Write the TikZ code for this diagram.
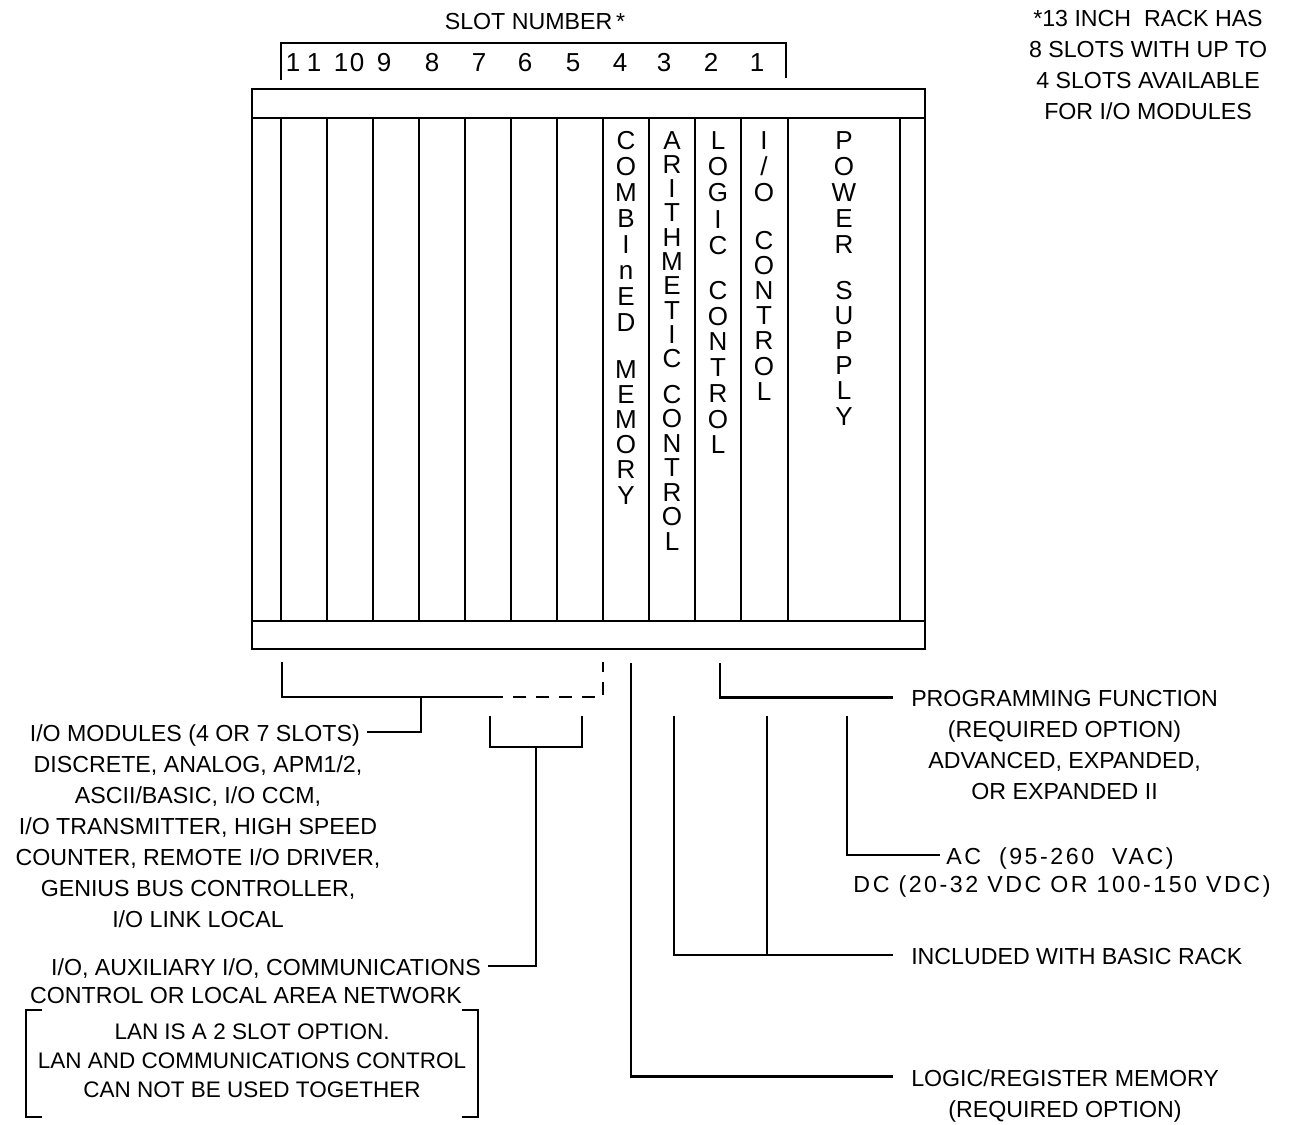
\documentclass[tikz,border=0pt]{standalone}
\usepackage{fontspec}
\setmainfont{Liberation Sans}
\begin{document}
\begin{tikzpicture}[x=0.1mm, y=-0.1mm, line width=0.7pt,
    txt/.style={inner sep=0pt, align=center, font=\fontsize{6.6}{8.8}\selectfont},
    ltr/.style={inner sep=0pt, anchor=base, font=\fontsize{7.4}{8}\selectfont},
    wide/.style={inner sep=0pt, align=center, font=\fontsize{6.6}{8.8}\selectfont\addfontfeature{LetterSpace=11}},
    rack/.style={line width=0.8pt}]
    \useasboundingbox (0,0) rectangle (1296,1124);

    % slot numbers
    \node[txt] (slotno) at (535,22) {SLOT NUMBER\,*};
    \draw (281,80) -- (281,43) -- (786,43) -- (786,78);
    \foreach \x/\n in {293/1, 314/1, 341/1, 357/0, 384/9, 432/8, 479/7, 525/6, 573/5, 620/4, 664/3, 711/2, 757/1}
        \node[ltr] (num\x) at (\x,71) {\n};

    % footnote
    \node[txt, anchor=north] (note) at (1148,9.5) {*13 INCH\ \ RACK HAS\\8 SLOTS WITH UP TO\\4 SLOTS AVAILABLE\\FOR I/O MODULES};

    % rack
    \draw[rack] (252,89) rectangle (925,649);
    \draw[rack] (252,118) -- (925,118) (252,621) -- (925,621);
    \foreach \x in {281,327,373,419,465,511,557,603,649,695,741,788,900}
        \draw[rack] (\x,118) -- (\x,621);

    % slot 4
    \foreach \c [count=\i from 0] in {C,O,M,B,I,n,E,D}
        \node[ltr] (cmb\i) at (626,{149+26.1*\i}) {\c};
    \foreach \c [count=\i from 0] in {M,E,M,O,R,Y}
        \node[ltr] (mem\i) at (626,{378.5+25.1*\i}) {\c};
    % slot 3
    \foreach \c [count=\i from 0] in {A,R,I,T,H,M,E,T,I,C}
        \node[ltr] (ari\i) at (672,{149+24.3*\i}) {\c};
    \foreach \c [count=\i from 0] in {C,O,N,T,R,O,L}
        \node[ltr] (actl\i) at (672,{403.5+24.45*\i}) {\c};
    % slot 2
    \foreach \c [count=\i from 0] in {L,O,G,I,C}
        \node[ltr] (log\i) at (718,{149+26.4*\i}) {\c};
    \foreach \c [count=\i from 0] in {C,O,N,T,R,O,L}
        \node[ltr] (lctl\i) at (718,{299.5+25.7*\i}) {\c};
    % slot 1
    \foreach \c [count=\i from 0] in {I,/,O}
        \node[ltr] (io\i) at (764,{149+26*\i}) {\c};
    \foreach \c [count=\i from 0] in {C,O,N,T,R,O,L}
        \node[ltr] (ioctl\i) at (764,{249.5+25.1*\i}) {\c};
    % power supply
    \foreach \c [count=\i from 0] in {P,O,W,E,R}
        \node[ltr] (pow\i) at (844,{149+26*\i}) {\c};
    \foreach \c [count=\i from 0] in {S,U,P,P,L,Y}
        \node[ltr] (sup\i) at (844,{299.5+25.1*\i}) {\c};

    % I/O modules
    \draw (282,662) -- (282,697) -- (490,697);
    \draw[dash pattern=on 1.3mm off 1mm] (490,697) -- (603,697) -- (603,662);
    \coordinate (iojoin) at (421,697);
    \node[txt, anchor=mid east] (iomod) at (361,732) {I/O MODULES (4 OR 7 SLOTS)};
    \draw ([xshift=0.6mm]iomod.mid east) -| (iojoin);
    \node[txt, anchor=north] (iolist) at (198,754.5) {DISCRETE, ANALOG, APM1/2,\\ASCII/BASIC, I/O CCM,\\I/O TRANSMITTER, HIGH SPEED\\COUNTER, REMOTE I/O DRIVER,\\GENIUS BUS CONTROLLER,\\I/O LINK LOCAL};

    % auxiliary I/O
    \draw (490,716) -- (490,747) -- (582,747) -- (582,716);
    \coordinate (auxjoin) at (536,747);
    \node[txt, anchor=mid east] (aux) at (482,966) {I/O, AUXILIARY I/O, COMMUNICATIONS};
    \draw ([xshift=0.6mm]aux.mid east) -| (auxjoin);
    \node[txt] (auxnet) at (246,995) {CONTROL OR LOCAL AREA NETWORK};
    \node[txt, font=\fontsize{6.4}{8.2}\selectfont] (lan) at (252,1061) {LAN IS A 2 SLOT OPTION.\\LAN AND COMMUNICATIONS CONTROL\\CAN NOT BE USED TOGETHER};
    \draw (42,1010) -- (26,1010) -- (26,1117) -- (42,1117);
    \draw (462,1010) -- (478,1010) -- (478,1117) -- (462,1117);

    % programming function
    \coordinate (progtap) at (720,663);
    \node[txt, anchor=north west] (prog) at (910,689) {PROGRAMMING FUNCTION\\(REQUIRED OPTION)\\ADVANCED, EXPANDED,\\OR EXPANDED II};
    \draw (progtap) |- ([xshift=-1.7mm, yshift=-0.83mm]prog.north west);

    % power supply
    \coordinate (powtap) at (847,716);
    \node[wide, anchor=mid west] (ac) at (945,855) {AC\ \ (95-260\ \ VAC)};
    \node[wide] (dc) at (1062,886) {DC (20-32 VDC OR 100-150 VDC)};
    \draw (powtap) |- ([xshift=-0.5mm]ac.mid west);

    % basic rack
    \coordinate (lctap) at (674,716);
    \coordinate (iotap) at (767,716);
    \node[txt, anchor=mid west] (incl) at (910,955) {INCLUDED WITH BASIC RACK};
    \draw (lctap) |- ([xshift=-1.7mm]incl.mid west);
    \draw (iotap) -- (767,0 |- incl.mid west);

    % logic/register memory
    \coordinate (memtap) at (631,663);
    \node[txt, anchor=north west] (reg) at (910,1068) {LOGIC/REGISTER MEMORY\\(REQUIRED OPTION)};
    \draw (memtap) |- ([xshift=-1.7mm, yshift=-0.83mm]reg.north west);
\end{tikzpicture}
\end{document}
